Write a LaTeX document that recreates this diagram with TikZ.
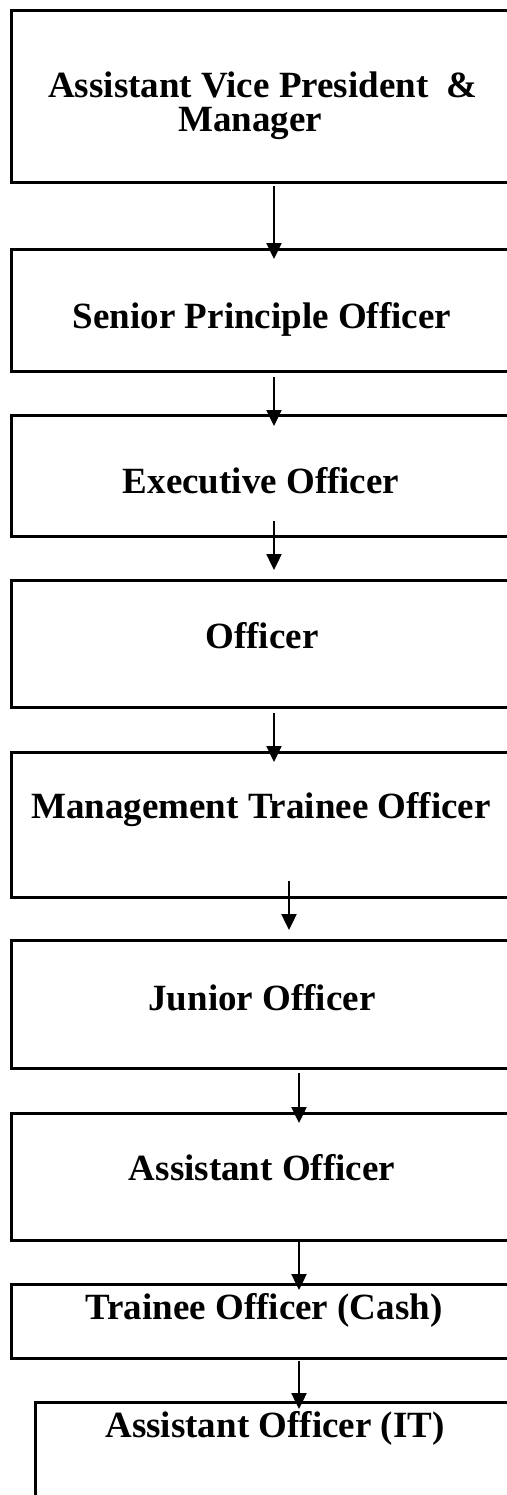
\documentclass[tikz,border=0pt]{standalone}
\usepackage{fontspec}
\setmainfont{Liberation Serif}
\usetikzlibrary{arrows.meta}

\tikzset{
  rank/.style={draw, line width=1.5pt, inner sep=0pt, outer sep=0pt,
    anchor=north west, minimum width=251pt},
  title/.style={anchor=base, inner sep=0pt, align=center,
    font=\fontsize{18.5pt}{17pt}\selectfont\bfseries},
  down/.style={line width=1.2pt, -{Triangle[length=8pt,width=7.5pt]}}
}

\begin{document}
\begin{tikzpicture}[x=0.5pt, y=-0.5pt]
  \useasboundingbox (0,0) rectangle (507,1495);
  \clip (0,0) rectangle (507,1495);

  % boxes of the ranks, top to bottom
  \node[rank, minimum height=86pt]   (b1) at (11,10)   {};
  \node[rank, minimum height=61pt]   (b2) at (11,249)  {};
  \node[rank, minimum height=60.5pt] (b3) at (11,415)  {};
  \node[rank, minimum height=63.5pt] (b4) at (11,580)  {};
  \node[rank, minimum height=72.5pt] (b5) at (11,752)  {};
  \node[rank, minimum height=64pt]   (b6) at (11,940)  {};
  \node[rank, minimum height=63.5pt] (b7) at (11,1113) {};
  \node[rank, minimum height=37pt]   (b8) at (11,1284) {};
  \node[rank, minimum height=54pt, minimum width=240pt] (b9) at (35,1402) {};

  % rank titles (a two-line title is placed by its last baseline)
  \node[title] (t1) at (263,131)  {Assistant Vice President\ \ \&\\Manager\hspace*{13pt}};
  \node[title] (t2) at (262,328)  {Senior Principle Officer};
  \node[title] (t3) at (261,493)  {Executive Officer};
  \node[title] (t4) at (262,648)  {Officer};
  \node[title] (t5) at (261,818)  {Management Trainee Officer};
  \node[title] (t6) at (262,1010) {Junior Officer};
  \node[title] (t7) at (262,1180) {Assistant Officer};
  \node[title] (t8) at (264,1319) {Trainee Officer (Cash)};
  \node[title] (t9) at (275,1437) {Assistant Officer (IT)};

  % arrow end points
  \coordinate (a1s) at (274,186);  \coordinate (a1e) at (274,259);
  \coordinate (a2s) at (274,377);  \coordinate (a2e) at (274,426);
  \coordinate (a3s) at (274,521);  \coordinate (a3e) at (274,570);
  \coordinate (a4s) at (274,713);  \coordinate (a4e) at (274,762);
  \coordinate (a5s) at (289,881);  \coordinate (a5e) at (289,930);
  \coordinate (a6s) at (299,1073); \coordinate (a6e) at (299,1123);
  \coordinate (a7s) at (299,1242); \coordinate (a7e) at (299,1290);
  \coordinate (a8s) at (299,1361); \coordinate (a8e) at (299,1409);

  \foreach \i in {1,...,8}
    \draw[down] (a\i s) -- (a\i e);
\end{tikzpicture}
\end{document}
